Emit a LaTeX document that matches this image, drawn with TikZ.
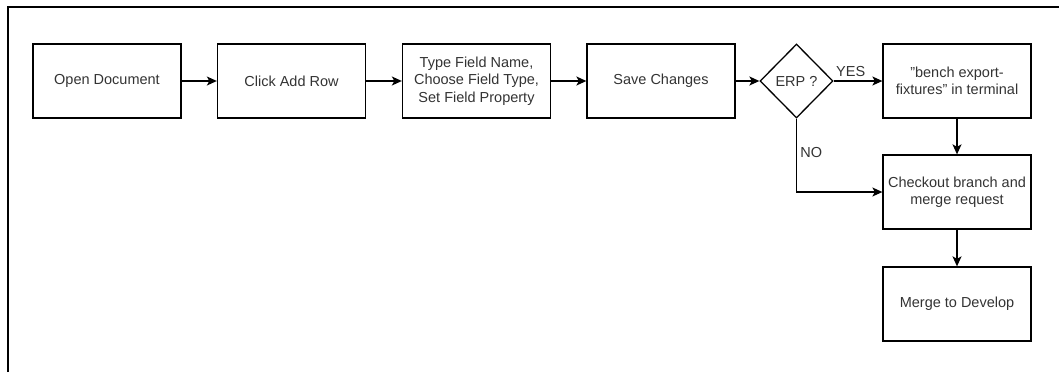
\documentclass[tikz,border=0pt]{standalone}
\usepackage{fontspec}
\setmainfont{Liberation Sans}
\usepackage{tikz}
\usetikzlibrary{
    arrows.meta,
    shapes.geometric,
    positioning
}
\tikzset{
    >={Stealth[length=10pt,width=9pt,inset=2.5pt]},
    stepbox/.style={draw, line width=1.3pt, minimum width=148pt, minimum height=74pt,
        align=center, text=black!80, font=\fontsize{14.5}{17.5}\selectfont},
    decide/.style={draw, diamond, line width=1.3pt, minimum width=73pt, minimum height=74pt,
        inner sep=0pt, text=black!80, font=\fontsize{14.5}{17.5}\selectfont},
    flow/.style={line width=1.3pt}
}

\begin{document}
\begin{tikzpicture}[x=1pt, y=-1pt]
                        \useasboundingbox (0, 0) rectangle (1059, 372);
                        \draw[line width=1.8pt] (8, 372) -- (8, 7) -- (1059, 7);

                        \node[stepbox] (open) at (107, 81) {Open Document};
                        \node[stepbox] (addrow) at (291.5, 81) {Click Add Row};
                        \node[stepbox] (fields) at (476.5, 81) {Type Field Name,\\Choose Field Type,\\Set Field Property};
                        \node[stepbox] (save) at (661, 81) {Save Changes};
                        \node[decide] (erp) at (796.5, 81) {ERP ?};
                        \node[stepbox] (bench) at (957, 81) {\symbol{34}bench export-\\fixtures\symbol{34} in terminal};
                        \node[stepbox] (checkout) at (957, 192) {Checkout branch and\\merge request};
                        \node[stepbox] (merge) at (957, 304) {Merge to Develop};

                        \draw[flow]
                        (open) edge[->] (addrow)
                        (addrow) edge[->] (fields)
                        (fields) edge[->] (save)
                        (save) edge[->] (erp)
                        (erp) edge[->] node[above, pos=0.35, text=black!80, font=\fontsize{14.5}{17.5}\selectfont]{YES} (bench)
                        (bench) edge[->] (checkout)
                        (checkout) edge[->] (merge);
                        \draw[flow, ->] (erp.south) |- node[right, pos=0.23, text=black!80, font=\fontsize{14.5}{17.5}\selectfont]{NO} (checkout.west);
                    \end{tikzpicture}
\end{document}
